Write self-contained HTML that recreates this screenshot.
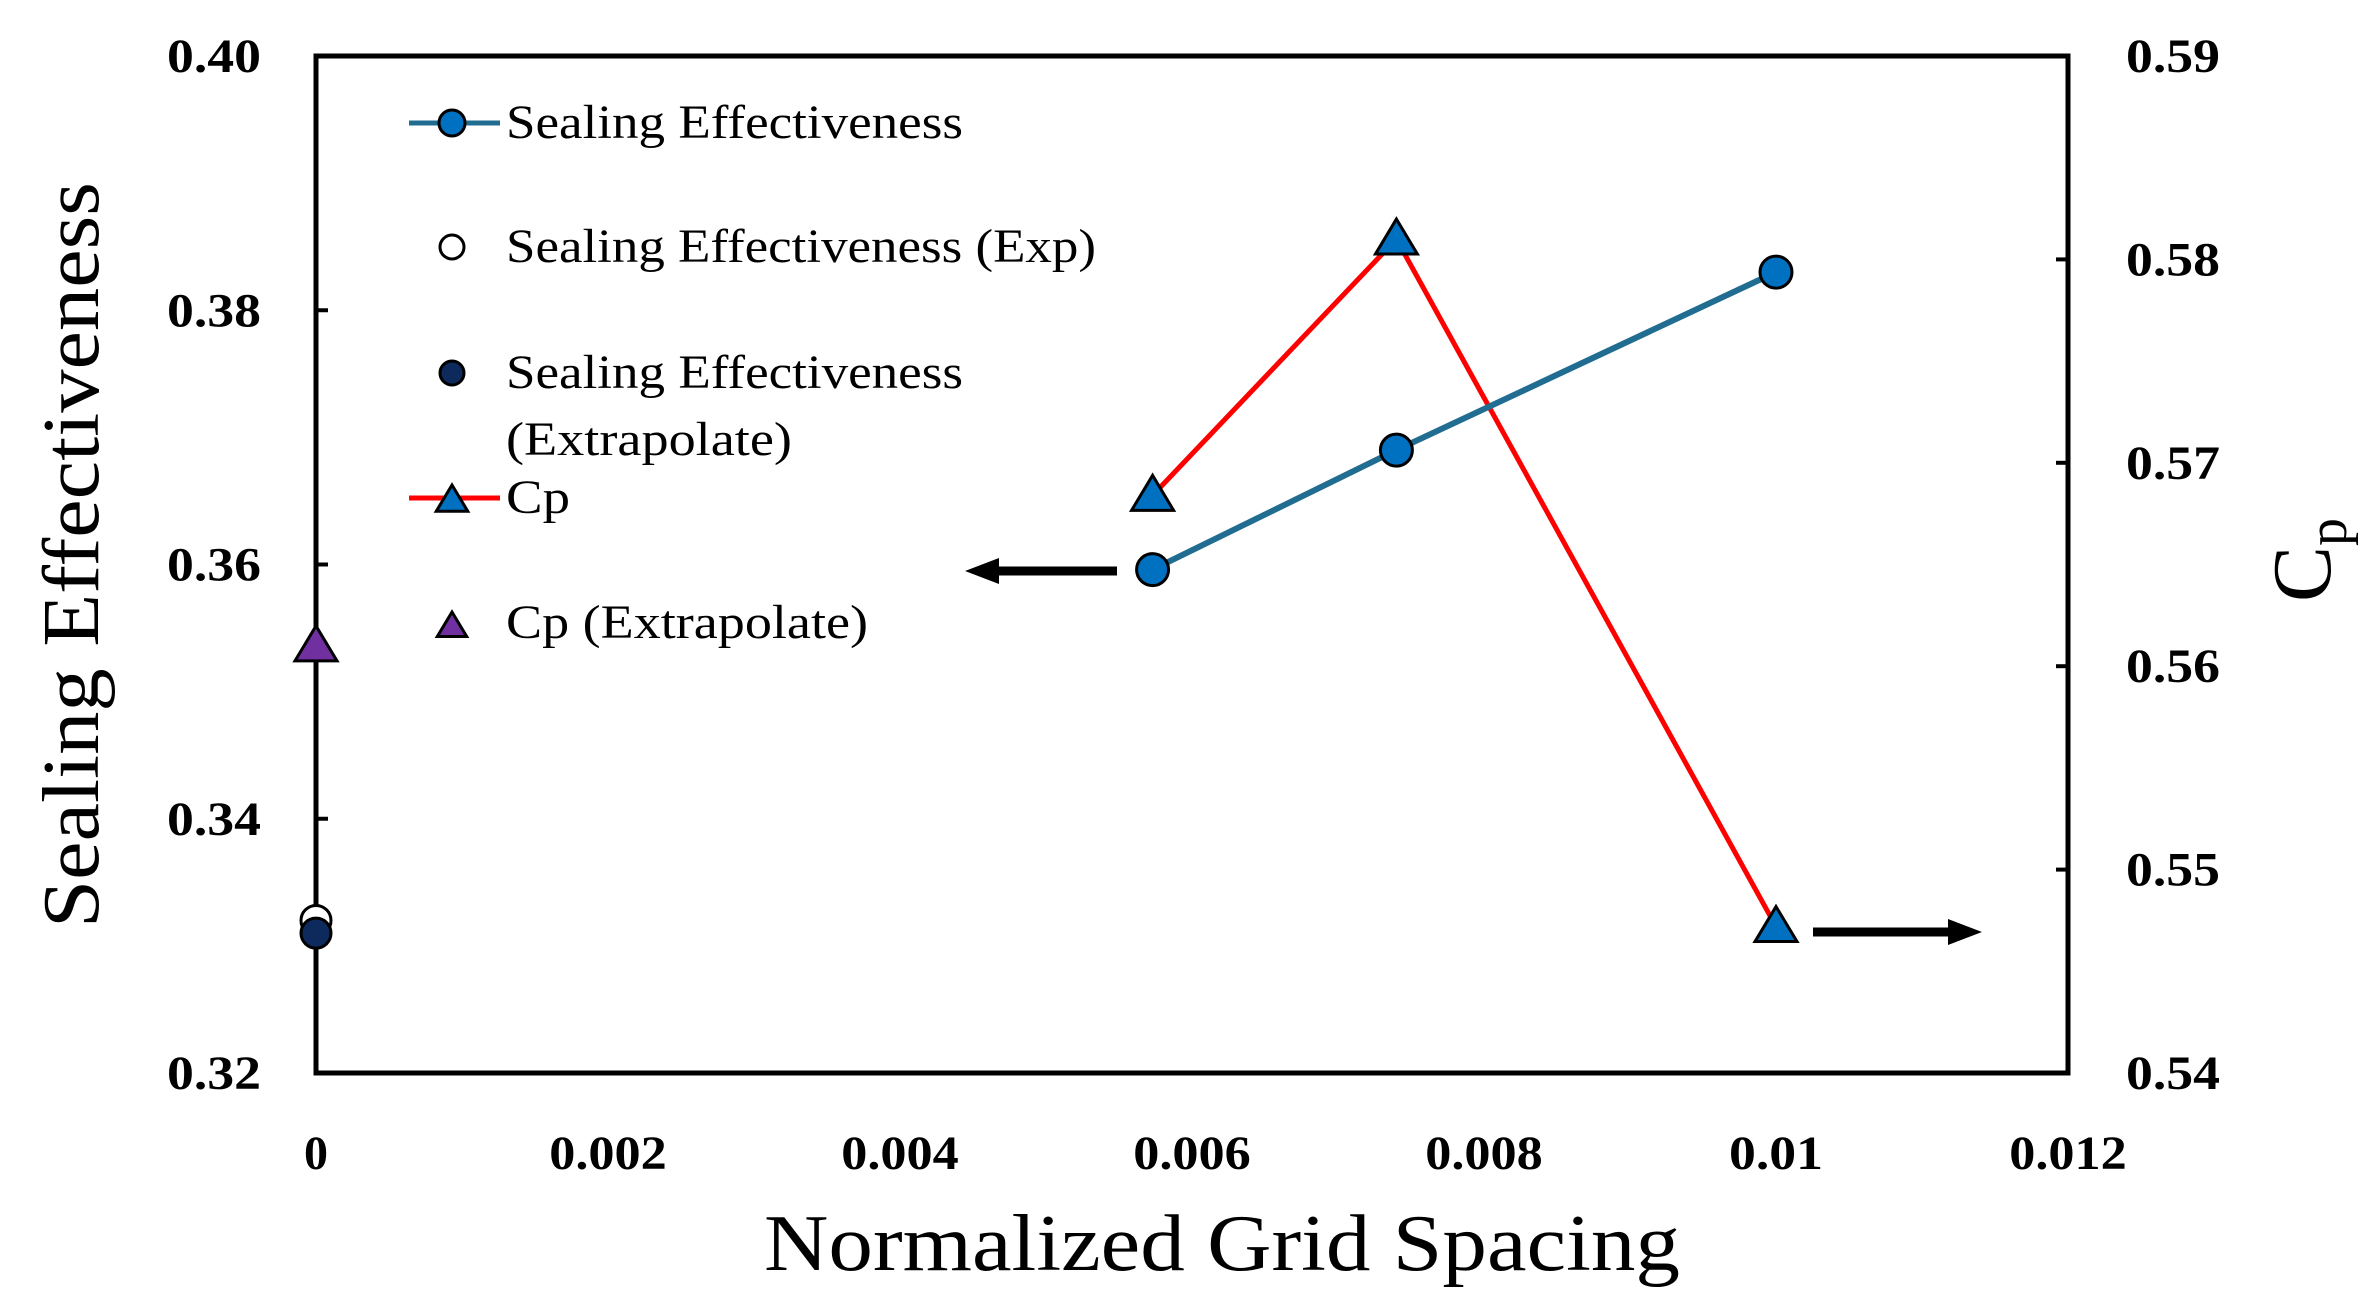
<!DOCTYPE html>
<html><head><meta charset="utf-8"><style>
html,body{margin:0;padding:0;background:#fff;}
svg{display:block;font-family:"Liberation Serif",serif;}
</style></head><body>
<svg id="chart" width="2374" height="1303" viewBox="0 0 2374 1303">
<g id="axes"></g>
<g id="marks"></g>
<g id="legend"></g>
</svg>
<script>
const xTicks=[0,0.002,0.004,0.006,0.008,0.01,0.012];
const xTickLabels=["0","0.002","0.004","0.006","0.008","0.01","0.012"];
const leftTicks=[0.32,0.34,0.36,0.38,0.40];
const leftTickLabels=["0.32","0.34","0.36","0.38","0.40"];
const rightTicks=[0.54,0.55,0.56,0.57,0.58,0.59];
const rightTickLabels=["0.54","0.55","0.56","0.57","0.58","0.59"];
const seX=[0.00573,0.0074,0.01];
const seY=[0.3596,0.369,0.383];
const cpX=[0.00573,0.0074,0.01];
const cpY=[0.5684,0.581,0.5472];
const expX=[0]; const expY=[0.332];
const extSeX=[0]; const extSeY=[0.331];
const extCpX=[0]; const extCpY=[0.561];

const L=316,R=2068,T=56,B=1073;
const sx=v=>L+(v-0)/(0.012)*(R-L);
const syL=v=>B-(v-0.32)/(0.08)*(B-T);
const syR=v=>B-(v-0.54)/(0.05)*(B-T);
const NS="http://www.w3.org/2000/svg";
function mk(parent,tag,attrs,text){const e=document.createElementNS(NS,tag);for(const k in attrs)e.setAttribute(k,attrs[k]);if(text!==undefined)e.textContent=text;parent.appendChild(e);return e;}
const axes=document.getElementById('axes'),marks=document.getElementById('marks'),legend=document.getElementById('legend');
const CW=23.5; // per-char width for tick labels

let e=mk(axes,'rect',{x:L,y:T,width:R-L,height:B-T,fill:'none',stroke:'#000','stroke-width':5});


leftTicks.forEach((v,i)=>{const y=syL(v);
 let t=mk(axes,'line',{x1:L,x2:L+12,y1:y,y2:y,stroke:'#000','stroke-width':4});
 
 
 let l=mk(axes,'text',{x:261,y:y+16,'text-anchor':'end','font-size':48,'font-weight':'bold',textLength:94,lengthAdjust:'spacingAndGlyphs'},leftTickLabels[i]);
 
 });
rightTicks.forEach((v,i)=>{const y=syR(v);
 let t=mk(axes,'line',{x1:R-12,x2:R,y1:y,y2:y,stroke:'#000','stroke-width':4});
 
 
 let l=mk(axes,'text',{x:2126,y:y+16,'text-anchor':'start','font-size':48,'font-weight':'bold',textLength:94,lengthAdjust:'spacingAndGlyphs'},rightTickLabels[i]);
 
 });
xTicks.forEach((v,i)=>{
 const s=xTickLabels[i];
 const attrs={x:sx(v),y:1169,'text-anchor':'middle','font-size':48,'font-weight':'bold'};
 if(s.length>1){attrs.textLength=s.length*CW;attrs.lengthAdjust='spacingAndGlyphs';}
 let l=mk(axes,'text',attrs,s);
 
 });
e=mk(axes,'text',{x:1222,y:1270,'text-anchor':'middle','font-size':80,textLength:916,lengthAdjust:'spacingAndGlyphs'},'Normalized Grid Spacing');


e=mk(axes,'text',{x:0,y:0,'text-anchor':'middle','font-size':80,textLength:746,lengthAdjust:'spacingAndGlyphs',transform:'translate(98,555) rotate(-90)'},'Sealing Effectiveness');


e=mk(axes,'text',{x:0,y:0,'text-anchor':'middle','font-size':84,transform:'translate(2330,560) rotate(-90)'});


mk(e,'tspan',{},'C');mk(e,'tspan',{'font-size':56,dy:16},'p');

function arrow(x1,x2,y,name){const g=mk(marks,'g',{});
 
 
 const d=x2>x1?1:-1;
 mk(g,'line',{x1:x1,x2:x2-d*28,y1:y,y2:y,stroke:'#000','stroke-width':9});
 mk(g,'polygon',{points:`${x2},${y} ${x2-d*34},${y-13} ${x2-d*34},${y+13}`,fill:'#000'});}
arrow(1117,965,571,'left-axis-arrow');
arrow(1813,1982,932,'right-axis-arrow');

e=mk(marks,'polyline',{points:cpX.map((v,i)=>sx(v)+','+syR(cpY[i])).join(' '),fill:'none',stroke:'#ff0000','stroke-width':5});


e=mk(marks,'polyline',{points:seX.map((v,i)=>sx(v)+','+syL(seY[i])).join(' '),fill:'none',stroke:'#216c91','stroke-width':6});


function tri(parent,x,y,fill,s){return mk(parent,'polygon',{points:`${x},${y-s} ${x-s*1.05},${y+s*0.75} ${x+s*1.05},${y+s*0.75}`,fill:fill,stroke:'#000','stroke-width':3});}
cpX.forEach((v,i)=>{let p=tri(marks,sx(v),syR(cpY[i]),'#0070c0',20);
 
 });
seX.forEach((v,i)=>{let c=mk(marks,'circle',{cx:sx(v),cy:syL(seY[i]),r:16,fill:'#0070c0',stroke:'#000','stroke-width':3});
 
 });
extCpX.forEach((v,i)=>{let p=tri(marks,sx(v),syR(extCpY[i]),'#7030a0',20);
 
 });
expX.forEach((v,i)=>{let c=mk(marks,'circle',{cx:sx(v),cy:syL(expY[i]),r:15,fill:'#fff',stroke:'#000','stroke-width':3});
 
 });
extSeX.forEach((v,i)=>{let c=mk(marks,'circle',{cx:sx(v),cy:syL(extSeY[i]),r:15,fill:'#0e2a5c',stroke:'#000','stroke-width':3});
 
 });

function ltext(y,s,name,len){let t=mk(legend,'text',{x:506,y:y+15,'font-size':48,textLength:len,lengthAdjust:'spacingAndGlyphs'},s);
 
 }
e=mk(legend,'line',{x1:409,x2:500,y1:123,y2:123,stroke:'#216c91','stroke-width':5});


e=mk(legend,'circle',{cx:452,cy:123,r:13,fill:'#0070c0',stroke:'#000','stroke-width':3});


ltext(123,'Sealing Effectiveness','legend-se-label',457);
e=mk(legend,'circle',{cx:452,cy:247,r:12,fill:'#fff',stroke:'#000','stroke-width':3});


ltext(247,'Sealing Effectiveness (Exp)','legend-exp-label',590);
e=mk(legend,'circle',{cx:452,cy:373,r:12,fill:'#0e2a5c',stroke:'#000','stroke-width':3});


ltext(373,'Sealing Effectiveness','legend-extrapolate-label',457);
ltext(440,'(Extrapolate)','legend-extrapolate-label-2',286);
e=mk(legend,'line',{x1:409,x2:500,y1:498,y2:498,stroke:'#ff0000','stroke-width':5});


e=tri(legend,452,500,'#0070c0',15);


ltext(498,'Cp','legend-cp-label',64);
e=tri(legend,452,626,'#7030a0',14);


ltext(623,'Cp (Extrapolate)','legend-cp-extrapolate-label',362);
</script>
</body></html>
